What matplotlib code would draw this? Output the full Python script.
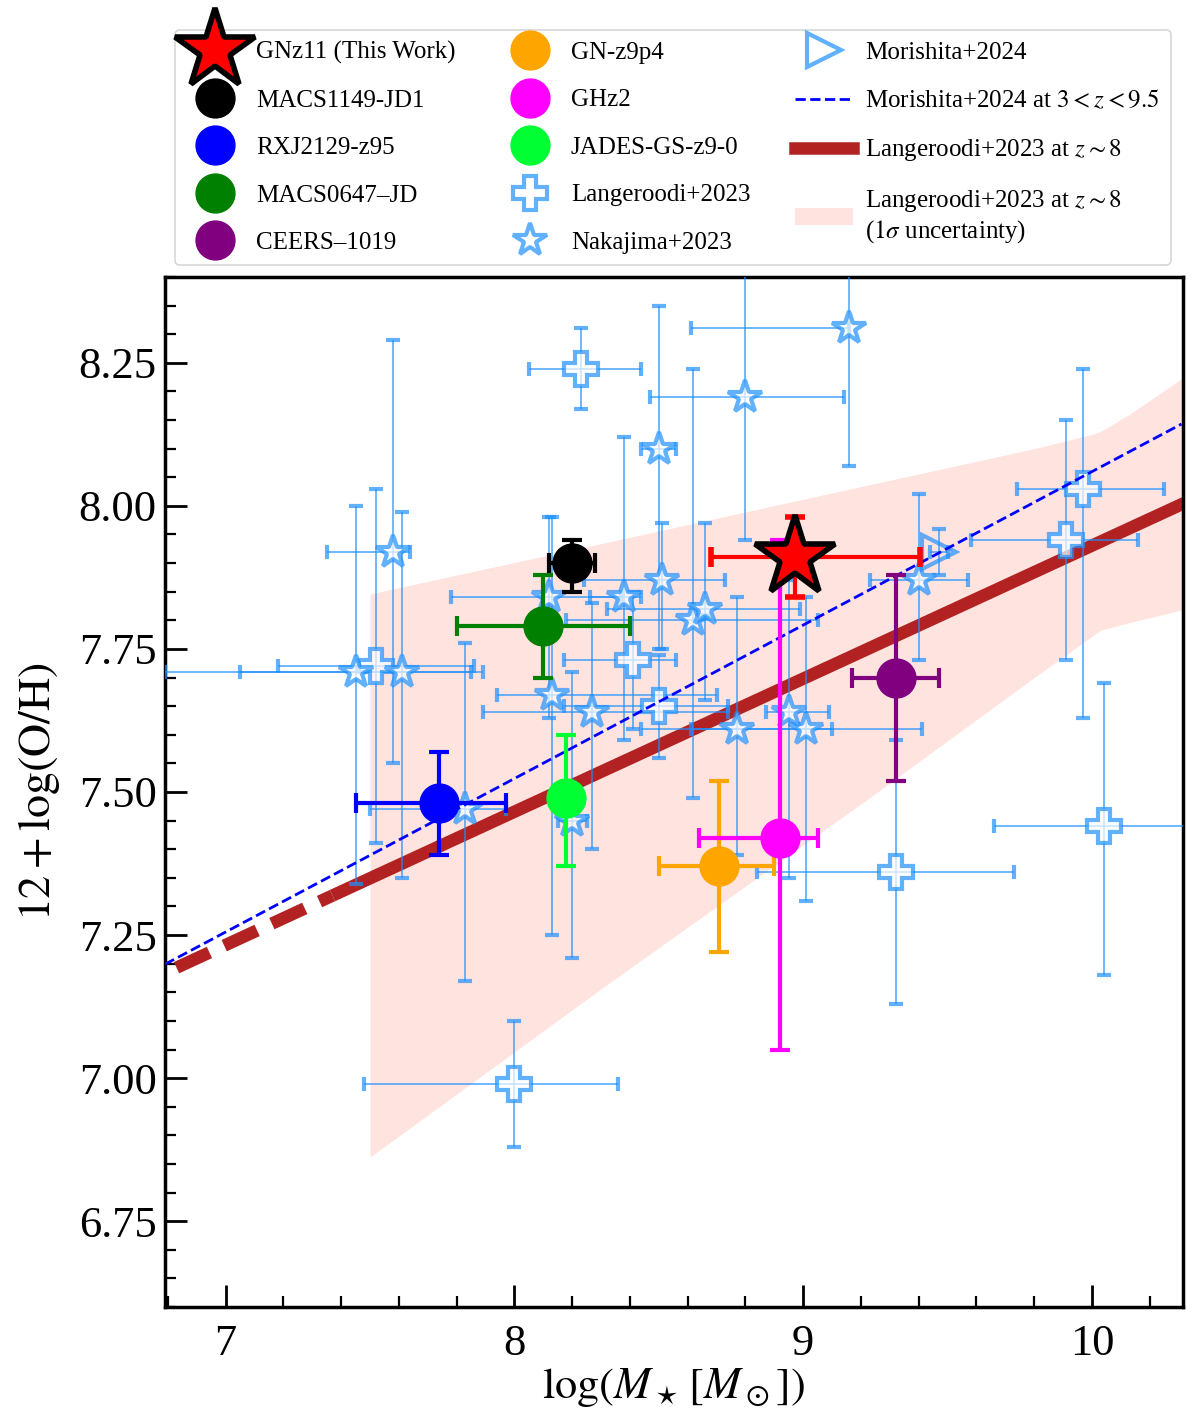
import matplotlib
matplotlib.use('Agg')
import matplotlib.pyplot as plt
from matplotlib.lines import Line2D
from matplotlib.patches import Patch
from matplotlib.ticker import MultipleLocator, FormatStrFormatter

plt.rcParams['font.family'] = ['Liberation Serif', 'DejaVu Serif']
plt.rcParams['mathtext.fontset'] = 'stix'

# individual high-z sources
src_names = ['MACS1149-JD1', 'RXJ2129-z95', 'MACS0647–JD', 'CEERS–1019',
             'GN-z9p4', 'GHz2', 'JADES-GS-z9-0']
src_colors = ['black', 'blue', 'green', 'purple', 'orange', 'magenta', '#00FF33']
src_mass = [8.20, 7.74, 8.10, 9.32, 8.71, 8.92, 8.18]
src_oh = [7.90, 7.48, 7.79, 7.70, 7.37, 7.42, 7.49]
src_mass_lo = [0.08, 0.29, 0.30, 0.15, 0.21, 0.28, 0.0]
src_mass_hi = [0.08, 0.23, 0.30, 0.15, 0.19, 0.13, 0.0]
src_oh_lo = [0.05, 0.09, 0.09, 0.18, 0.15, 0.37, 0.12]
src_oh_hi = [0.04, 0.09, 0.09, 0.18, 0.15, 0.52, 0.11]

# GNz11 (this work)
gn_mass = [8.97]
gn_oh = [7.91]
gn_mass_err = [[0.29], [0.435]]
gn_oh_err = [[0.07], [0.07]]

# Langeroodi+2023 sample
lang_mass = [8.23, 7.52, 8.41, 8.50, 9.91, 9.97, 10.04, 9.32, 8.00]
lang_oh = [8.24, 7.72, 7.73, 7.65, 7.94, 8.03, 7.44, 7.36, 6.99]
lang_mass_lo = [0.18, 0.34, 0.24, 0.33, 0.33, 0.23, 0.38, 0.48, 0.52]
lang_mass_hi = [0.21, 0.34, 0.15, 0.24, 0.25, 0.28, 0.38, 0.41, 0.36]
lang_oh_lo = [0.07, 0.31, 0.12, 0.09, 0.21, 0.40, 0.26, 0.23, 0.11]
lang_oh_hi = [0.07, 0.31, 0.12, 0.09, 0.21, 0.21, 0.25, 0.23, 0.11]

# Nakajima+2023 sample
nak_mass = [7.58, 7.45, 7.61, 8.13, 8.12, 8.27, 8.38, 8.50, 8.51, 7.83,
            8.20, 8.62, 8.66, 8.77, 9.01, 8.95, 8.80, 9.16, 9.40]
nak_oh = [7.92, 7.71, 7.71, 7.67, 7.84, 7.64, 7.84, 8.10, 7.87, 7.47,
          7.45, 7.80, 7.82, 7.61, 7.61, 7.64, 8.19, 8.31, 7.87]
nak_mass_lo = [0.23, 0.40, 0.82, 0.19, 0.34, 0.38, 0.12, 0.06, 0.27, 0.33,
               0.05, 0.44, 0.34, 0.33, 0.40, 0.08, 0.33, 0.55, 0.17]
nak_mass_hi = [0.06, 0.44, 0.24, 0.57, 0.25, 0.47, 0.06, 0.06, 0.22, 0.14,
               0.05, 0.43, 0.33, 0.33, 0.40, 0.14, 0.34, 0.00, 0.17]
nak_oh_lo = [0.37, 0.37, 0.36, 0.42, 0.21, 0.24, 0.25, 0.35, 0.12, 0.30,
             0.24, 0.31, 0.16, 0.22, 0.30, 0.29, 0.25, 0.24, 0.14]
nak_oh_hi = [0.37, 0.29, 0.28, 0.31, 0.14, 0.19, 0.28, 0.25, 0.10, 0.29,
             0.26, 0.44, 0.15, 0.23, 0.23, 0.23, 0.26, 0.24, 0.15]

# Morishita+2024 stack
mori_mass = [9.47]
mori_oh = [7.92]
mori_mass_err = [0.03]
mori_oh_err = [0.04]

# Morishita+2024 relation (3 < z < 9.5)
mori_rel_x = [6.79, 10.31]
mori_rel_y = [7.199, 8.143]

# Langeroodi+2023 relation at z~8 (dashed = extrapolation)
lang_ext_x = [6.83, 7.37]
lang_ext_y = [7.193, 7.319]
lang_rel_x = [7.37, 10.32]
lang_rel_y = [7.319, 8.005]

# 1 sigma band
band_x = [7.5, 8.3, 9.23, 9.8, 10.0, 10.03, 10.13, 10.31]
band_lo = [6.862, 7.156, 7.49, 7.70, 7.772, 7.783, 7.796, 7.818]
band_hi = [7.846, 7.934, 8.037, 8.10, 8.125, 8.13, 8.16, 8.222]

lblue = '#1E90FF'
band_col = '#FFE3DF'
red_col = '#B22222'

fig = plt.figure(figsize=(12, 14.21), dpi=100)
ax = fig.add_axes([0.1375, 0.0802, 0.8483, 0.7249])

ax.fill_between(band_x, band_lo, band_hi, color=band_col, lw=0, zorder=1)
ax.plot(lang_ext_x, lang_ext_y, color=red_col, lw=9, ls=(0, (2.9, 1.3)),
        solid_capstyle='butt', dash_capstyle='butt', zorder=2)
ax.plot(lang_rel_x, lang_rel_y, color=red_col, lw=9, solid_capstyle='butt', zorder=2)

ax.errorbar(lang_mass, lang_oh, xerr=[lang_mass_lo, lang_mass_hi],
            yerr=[lang_oh_lo, lang_oh_hi], fmt='P', ms=24, mfc='white', mec=lblue,
            mew=3, ecolor=lblue, elinewidth=1.3, capsize=5, capthick=1.3,
            alpha=0.7, zorder=3)
ax.errorbar(nak_mass, nak_oh, xerr=[nak_mass_lo, nak_mass_hi],
            yerr=[nak_oh_lo, nak_oh_hi], fmt='*', ms=25, mfc='white', mec=lblue,
            mew=3, ecolor=lblue, elinewidth=1.3, capsize=5, capthick=1.3,
            alpha=0.7, zorder=3)
ax.errorbar(mori_mass, mori_oh, xerr=mori_mass_err, yerr=mori_oh_err, fmt='>',
            ms=24, mfc='none', mec=lblue, mew=3, ecolor=lblue, elinewidth=1.3,
            capsize=5, capthick=1.3, alpha=0.7, zorder=3)

ax.plot(mori_rel_x, mori_rel_y, color='blue', lw=2, ls='--', zorder=4)

for i in range(len(src_names)):
    ax.errorbar([src_mass[i]], [src_oh[i]],
                xerr=[[src_mass_lo[i]], [src_mass_hi[i]]],
                yerr=[[src_oh_lo[i]], [src_oh_hi[i]]],
                fmt='o', ms=28, color=src_colors[i], elinewidth=3,
                capsize=7, capthick=3, zorder=5)

ax.errorbar(gn_mass, gn_oh, xerr=gn_mass_err, yerr=gn_oh_err, fmt='*', ms=60,
            mfc='red', mec='black', mew=4, ecolor='red', elinewidth=3,
            capsize=7, capthick=3, zorder=6)

ax.set_xlim(6.79, 10.315)
ax.set_ylim(6.60, 8.40)
ax.xaxis.set_major_locator(MultipleLocator(1))
ax.xaxis.set_minor_locator(MultipleLocator(0.2))
ax.yaxis.set_major_locator(MultipleLocator(0.25))
ax.yaxis.set_minor_locator(MultipleLocator(0.05))
ax.yaxis.set_major_formatter(FormatStrFormatter('%.2f'))
ax.tick_params(which='both', direction='in', top=False, right=False, width=2)
ax.tick_params(which='major', length=16, labelsize=32)
ax.tick_params(axis='x', which='major', pad=12)
ax.tick_params(axis='y', which='major', pad=6)
ax.tick_params(which='minor', length=8, width=1.6)
for s in ax.spines.values():
    s.set_linewidth(2.5)

ax.set_xlabel(r'$\log(M_\star\,[M_\odot])$', fontsize=32, labelpad=2)
ax.set_ylabel(r'$12+\log({\rm O/H})$', fontsize=33, labelpad=12)

handles = [
    Line2D([], [], ls='none', marker='*', ms=60, mfc='red', mec='black', mew=4),
]
for c in src_colors:
    handles.append(Line2D([], [], ls='none', marker='o', ms=28, color=c))
handles += [
    Line2D([], [], ls='none', marker='P', ms=24, mfc='white', mec=lblue, mew=3, alpha=0.7),
    Line2D([], [], ls='none', marker='*', ms=25, mfc='white', mec=lblue, mew=3, alpha=0.7),
    Line2D([], [], ls='none', marker='>', ms=24, mfc='none', mec=lblue, mew=3, alpha=0.7),
    Line2D([], [], color='blue', lw=2, ls='--'),
    Line2D([], [], color=red_col, lw=9),
    Patch(facecolor=band_col, edgecolor='none'),
]
labels = ['GNz11 (This Work)'] + src_names + [
    'Langeroodi+2023', 'Nakajima+2023', 'Morishita+2024',
    r'Morishita+2024 at $3<z<9.5$', r'Langeroodi+2023 at $z\sim8$',
    'Langeroodi+2023 at $z\\sim8$\n($1\\sigma$ uncertainty)']

leg = fig.legend(handles, labels, loc='upper left', bbox_to_anchor=(0.146, 0.979),
                 borderaxespad=0, ncol=3, fontsize=18, numpoints=1,
                 handlelength=2.3, handletextpad=0.5, columnspacing=1.8,
                 labelspacing=1.0, borderpad=0.45, frameon=True, fancybox=True)
leg.get_frame().set_edgecolor('#CCCCCC')
leg.get_frame().set_linewidth(1.2)

fig.savefig('out.png', dpi=100)
